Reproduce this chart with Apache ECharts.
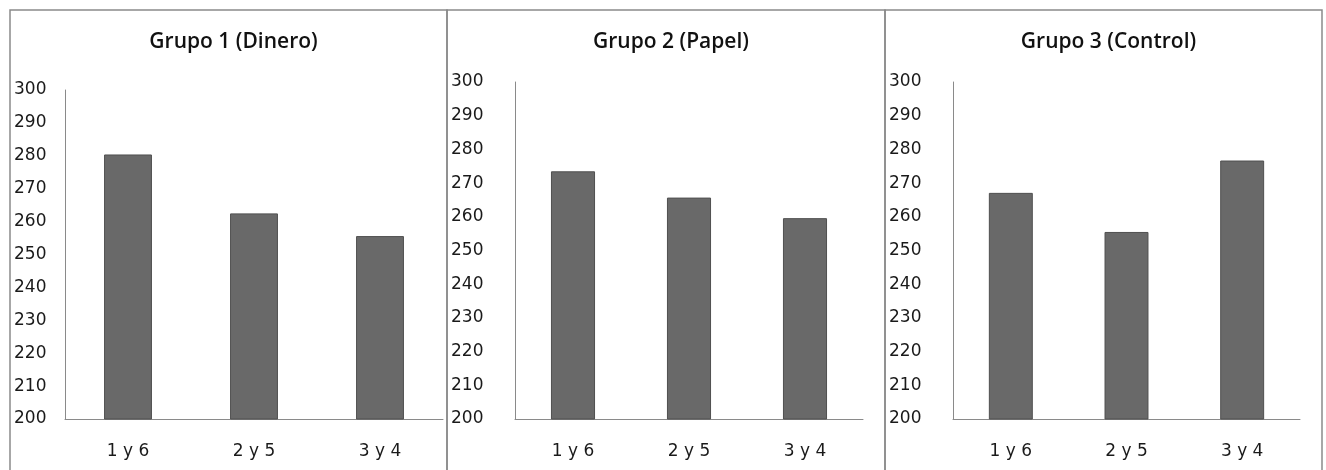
<!DOCTYPE html>
<html>
<head>
<meta charset="utf-8">
<script src="https://cdn.jsdelivr.net/npm/echarts@6/dist/echarts.min.js"></script>
<style>
  html, body { margin: 0; padding: 0; background: #fff; }
  #chart { width: 1326px; height: 470px; }
</style>
</head>
<body>
<div id="chart"></div>
<script>
  // datos
  var categorias = ['1 y 6', '2 y 5', '3 y 4']
  var titulos = ['Grupo 1 (Dinero)', 'Grupo 2 (Papel)', 'Grupo 3 (Control)']
  var grupo1 = [280.4, 262.5, 255.6]
  var grupo2 = [273.5, 265.7, 259.6]
  var grupo3 = [267.1, 255.5, 276.7]
  var yMin = 200
  var yMax = 300
  var yPaso = 10

  var series = [grupo1, grupo2, grupo3]
  // cajas de cada panel y de su area de grafico
  var paneles = [
    { x: 10, w: 437, left: 65, width: 378, top: 90, center: 228.5 },
    { x: 447, w: 438, left: 515, width: 348, top: 82, center: 666 },
    { x: 885, w: 437, left: 953, width: 347, top: 82, center: 1103.5 }
  ]
  var bottom = 419

  var chart = echarts.init(document.getElementById('chart'))

  var grids = []
  var xAxes = []
  var yAxes = []
  var seriesList = []
  var titles = []
  var graphics = []

  paneles.forEach(function (p, i) {
    graphics.push({
      type: 'rect',
      shape: { x: p.x, y: 10, width: p.w, height: 480 },
      style: { fill: 'none', stroke: '#8a8a8a', lineWidth: 1.5 },
      z: -1
    })
    titles.push({
      text: titulos[i],
      left: p.center,
      top: 27,
      textAlign: 'center',
      textStyle: {
        fontFamily: 'Open Sans',
        fontSize: 21,
        fontWeight: 600,
        color: '#111'
      }
    })
    grids.push({
      left: p.left,
      top: p.top,
      width: p.width,
      height: bottom - p.top
    })
    xAxes.push({
      type: 'category',
      gridIndex: i,
      data: categorias,
      axisLine: { lineStyle: { color: '#8a8a8a', width: 1 } },
      axisTick: { show: false },
      axisLabel: {
        margin: 24,
        fontFamily: 'DejaVu Sans',
        fontSize: 17,
        color: '#1a1a1a'
      }
    })
    yAxes.push({
      type: 'value',
      gridIndex: i,
      min: yMin,
      max: yMax,
      interval: yPaso,
      axisLine: { show: true, lineStyle: { color: '#8a8a8a', width: 1 } },
      axisTick: { show: false },
      splitLine: { show: false },
      axisLabel: {
        align: 'left',
        margin: p.left - p.x - 4,
        fontFamily: 'DejaVu Sans',
        fontSize: 17,
        color: '#1a1a1a'
      }
    })
    seriesList.push({
      type: 'bar',
      xAxisIndex: i,
      yAxisIndex: i,
      data: series[i],
      barWidth: '38%',
      itemStyle: { color: '#696969', borderColor: '#505050', borderWidth: 1 },
      silent: true
    })
  })

  chart.setOption({
    animation: false,
    title: titles,
    grid: grids,
    xAxis: xAxes,
    yAxis: yAxes,
    series: seriesList,
    graphic: graphics
  })
</script>
</body>
</html>
